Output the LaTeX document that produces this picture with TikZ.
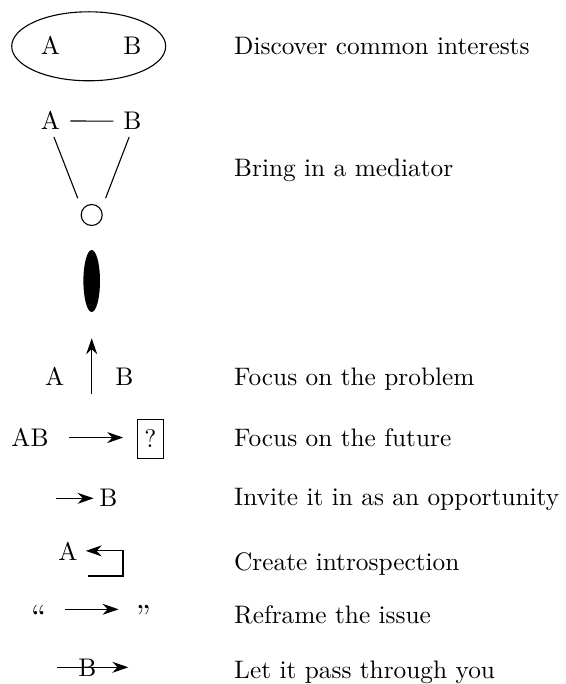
\documentclass[tikz,border=0pt]{standalone}
\usepackage{fontspec}
\setmainfont{lmroman10-regular}[Extension=.otf]
\usepackage{tikz}
\usetikzlibrary{
    arrows.meta,
    shapes.geometric,
    positioning,
    calc
}
\tikzstyle{letter} = [
    inner sep=3pt,
    anchor=base,
    font=\fontsize{25.5}{30}\selectfont
]
\tikzstyle{desc} = [
    anchor=base west,
    inner sep=0pt,
    font=\fontsize{25.3}{30}\selectfont
]
\tikzstyle{arrow} = [
    -{Stealth[length=16pt, width=11pt]},
    line width=1.1pt,
    draw=black
]
\tikzstyle{edge} = [
    line width=1.1pt,
    draw=black
]

\begin{document}
\begin{tikzpicture}[x=1pt, y=-1pt]
    \useasboundingbox (0,0) rectangle (565,684);

    % Common interests
    \node[ellipse, edge, minimum width=154pt, minimum height=69pt, inner sep=0pt] (pair) at (88.7,46.3) {};
    \node[letter] (a1) at (50.5,55) {A};
    \node[letter] (b1) at (132.5,55) {B};
    \node[desc] (t1) at (234,55) {Discover common interests};

    % Mediator
    \node[letter, inner sep=4pt] (a2) at (50.5,130) {A};
    \node[letter, inner sep=4pt] (b2) at (132.5,130) {B};
    \node[circle, edge, minimum size=21pt, inner sep=0pt] (med) at (91.7,215) {};
    \draw[edge, shorten <=6pt, shorten >=6pt] (a2) -- (b2);
    \draw[edge, shorten <=3pt, shorten >=12pt] (a2.-80) -- (med.150);
    \draw[edge, shorten <=3pt, shorten >=12pt] (b2.-100) -- (med.30);
    \node[desc] (t2) at (234,176.7) {Bring in a mediator};

    % Problem
    \node[ellipse, fill=black, minimum width=16.6pt, minimum height=62pt, inner sep=0pt] (blob) at (91.7,281) {};
    \coordinate (probS) at (91.7,394);
    \coordinate (probE) at (91.7,338.3);
    \draw[arrow] (probS) -- (probE);
    \node[letter] (a3) at (54.7,385.7) {A};
    \node[letter] (b3) at (124.5,385.7) {B};
    \node[desc] (t3) at (234,385) {Focus on the problem};

    % Future
    \node[letter] (ab) at (30,446.7) {AB};
    \node[draw, line width=1.1pt, minimum width=25.6pt, minimum height=39pt, inner sep=0pt,
          font=\fontsize{25.5}{30}\selectfont] (fut) at (150.5,438.8) {?};
    \draw[arrow, shorten <=17pt, shorten >=14pt] (ab.east) -- (ab.east -| fut.west);
    \node[desc] (t4) at (234,446.7) {Focus on the future};

    % Opportunity
    \node[letter] (b4) at (108.5,506) {B};
    \coordinate (inv) at (56,498.3);
    \draw[arrow, shorten >=2.7pt] (inv) -- (inv -| b4.west);
    \node[desc] (t5) at (234,505) {Invite it in as an opportunity};

    % Introspection
    \node[letter] (a5) at (68,560) {A};
    \coordinate (intro) at (87.7,576);
    \draw[arrow, shorten >=5pt] (intro) -- ++(35.3,0) |- (a5.east);
    \node[desc] (t6) at (234,570) {Create introspection};

    % Reframe
    \node[letter, font=\fontsize{32}{36}\selectfont] (lq) at (38.8,627) {``};
    \node[letter, font=\fontsize{32}{36}\selectfont] (rq) at (143.3,627) {''};
    \coordinate (refr) at (65,609.3);
    \draw[arrow, shorten >=14pt] (refr) -- (refr -| rq.west);
    \node[desc] (t7) at (234,623.3) {Reframe the issue};

    % Pass through
    \coordinate (pass0) at (56.7,667.3);
    \coordinate (pass1) at (128.3,667.3);
    \draw[arrow] (pass0) -- (pass1);
    \node[letter] (b6) at (87.5,676) {B};
    \node[desc] (t8) at (234,678.3) {Let it pass through you};
\end{tikzpicture}
\end{document}
